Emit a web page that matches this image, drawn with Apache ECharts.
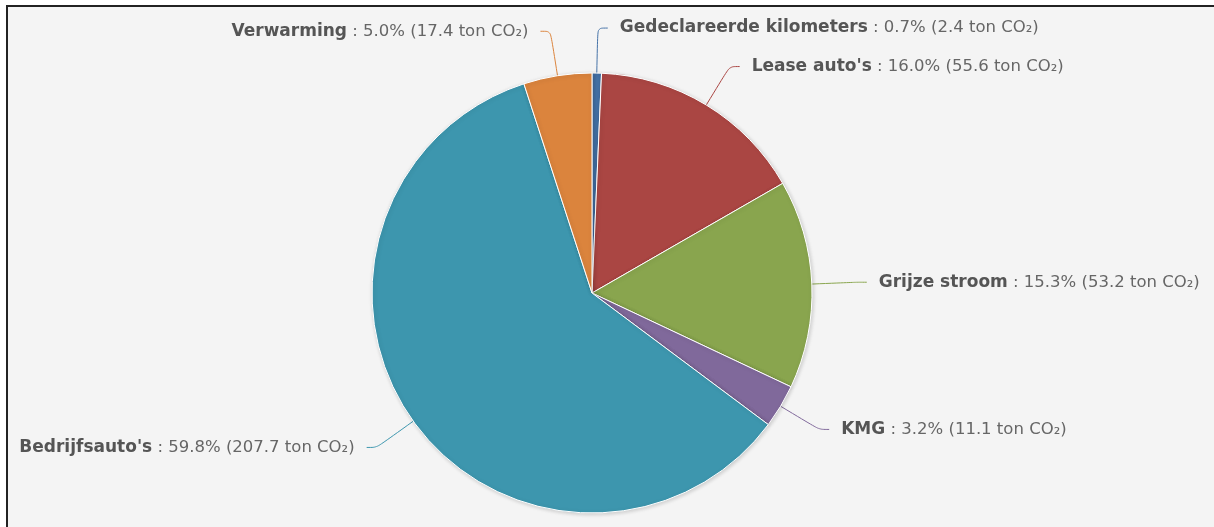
<!DOCTYPE html>
<html>
<head>
<meta charset="utf-8">
<script src="https://cdn.jsdelivr.net/npm/echarts@6/dist/echarts.min.js"></script>
<style>
  html, body { margin: 0; padding: 0; background: #ffffff; width: 1214px; height: 527px; overflow: hidden; }
  #frame { position: absolute; left: 6px; top: 5px; width: 1206px; height: 520px; background: #f4f4f4;
           border-left: 2px solid #222; border-top: 2px solid #222; }
  #chart { position: absolute; left: 0; top: 0; width: 1214px; height: 527px; }
</style>
</head>
<body>
<div id="frame"></div>
<div id="chart"></div>
<script>
const categories = ["Gedeclareerde kilometers", "Lease auto's", "Grijze stroom", "KMG", "Bedrijfsauto's", "Verwarming"];
const values = [2.4, 55.6, 53.2, 11.1, 207.7, 17.4];
const colors = ["#4572A7", "#AA4643", "#89A54E", "#80699B", "#3D96AE", "#DB843D"];
const unit = "ton CO₂";

const total = values.reduce((a, b) => a + b, 0);
const data = categories.map((name, i) => ({
  name: name,
  value: values[i],
  itemStyle: { color: colors[i] },
  labelLine: { lineStyle: { color: colors[i] } }
}));

const chart = echarts.init(document.getElementById('chart'), null, { renderer: 'canvas' });
chart.setOption({
  backgroundColor: 'transparent',
  animation: false,
  series: [{
    type: 'pie',
    center: [592, 293],
    radius: [0, 220],
    startAngle: 90,
    clockwise: true,
    avoidLabelOverlap: false,
    data: data,
    itemStyle: {
      borderColor: '#ffffff',
      borderWidth: 1,
      shadowBlur: 4,
      shadowColor: 'rgba(0,0,0,0.18)',
      shadowOffsetX: 1,
      shadowOffsetY: 1
    },
    label: {
      show: true,
      position: 'outside',
      distanceToLabelLine: 12,
      fontFamily: 'DejaVu Sans',
      fontSize: 16.5,
      color: '#606060',
      formatter: function (p) {
        const pct = (p.value / total * 100).toFixed(1);
        return '{b|' + p.name + '}{n| : ' + pct + '% (' + p.value.toFixed(1) + ' ' + unit + ')}';
      },
      rich: {
        b: { fontFamily: 'DejaVu Sans', fontSize: 17, fontWeight: 'bold', color: '#555555' },
        n: { fontFamily: 'DejaVu Sans', fontSize: 16.5, color: '#666666' }
      }
    },
    labelLine: {
      show: true,
      length: 45,
      length2: 10,
      smooth: 0.3,
      lineStyle: { width: 1 }
    }
  }]
});
</script>
</body>
</html>
